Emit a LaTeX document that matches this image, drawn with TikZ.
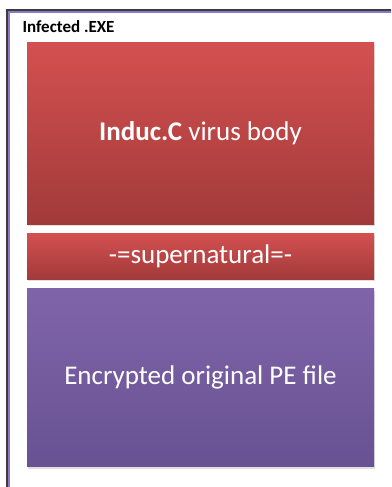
\documentclass[tikz,border=0pt]{standalone}
\usepackage{fontspec}
\setmainfont{Carlito}
\usetikzlibrary{positioning,shadows}
\definecolor{redtop}{RGB}{212,80,80}
\definecolor{redbot}{RGB}{162,58,58}
\definecolor{purtop}{RGB}{128,100,170}
\definecolor{purbot}{RGB}{104,82,146}
\definecolor{framedark}{RGB}{60,60,60}
\definecolor{framepur}{RGB}{140,120,200}
\begin{document}
\begin{tikzpicture}[x=1pt,y=-1pt,
	block/.style={minimum width=347pt,inner sep=0pt,text=white,
		font=\fontsize{27}{30}\selectfont,
		drop shadow={shadow xshift=1pt,shadow yshift=-2pt,opacity=0.25}},
	redblock/.style={block,top color=redtop,bottom color=redbot},
	purblock/.style={block,top color=purtop,bottom color=purbot}]
	\useasboundingbox (0,0) rectangle (391,487);
	\clip (0,0) rectangle (391,487);
	% outer frame, runs off right and bottom
	\draw [framedark,line width=1.3pt] (7,10) rectangle (420,520);
	\draw [framepur,line width=1.3pt] (9,12) rectangle (420,520);
	\node (title) [anchor=base west,font=\fontsize{17}{20}\selectfont\bfseries] at (19,33) {Infected .EXE};
	% file sections
	\node (body) [redblock,minimum height=181pt] at (200.5,133.5) {\textbf{Induc.C} virus body};
	\node (marker) [redblock,minimum height=46pt,below=9pt of body] {-=supernatural=-};
	\node (orig) [purblock,minimum height=178pt,below=9pt of marker] {Encrypted original PE file};
\end{tikzpicture}
\end{document}
